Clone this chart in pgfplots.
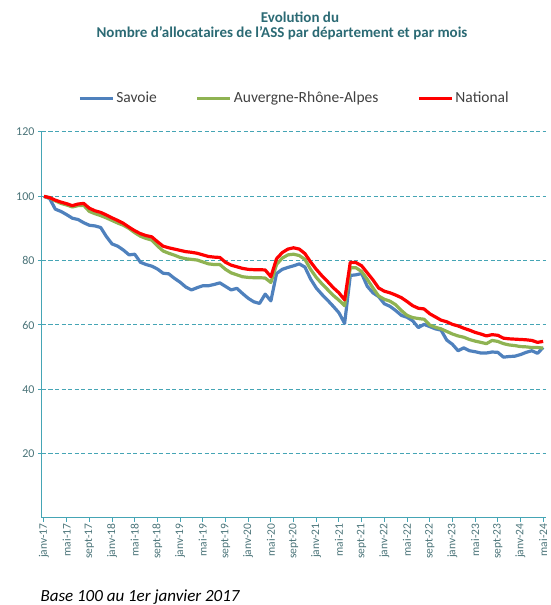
\documentclass[border=0pt]{standalone}
\usepackage{fontspec}
\setmainfont{Carlito}
\usepackage{pgfplots}
\usepackage{pgfplotstable}
\pgfplotsset{compat=1.18}
\definecolor{TitleTeal}{HTML}{2B6A74}
\definecolor{AxTeal}{HTML}{45A5B5}
\definecolor{TickGray}{HTML}{4A7378}
\definecolor{LegGray}{HTML}{404040}
\definecolor{SavBlue}{HTML}{4F81BD}
\definecolor{AraGreen}{HTML}{8FB352}
\definecolor{NatRed}{HTML}{FF0000}

% mois depuis janv-17 ; Savoie, Auvergne-Rhone-Alpes, National (base 100)
\pgfplotstableread{
m sav ara nat
0 100 100 100
1 99.3 99.5 99.6
2 96 98.6 98.8
3 95.3 97.8 98.2
4 94.3 97.3 97.7
5 93.2 96.7 97.1
6 92.8 97.1 97.6
7 91.8 97.2 97.8
8 91 95.3 96.3
9 90.8 94.6 95.5
10 90.3 94 95
11 87.5 93.3 94.2
12 85.2 92.5 93.3
13 84.5 91.7 92.5
14 83.3 91 91.6
15 81.8 90 90.4
16 82 88.7 89.3
17 79.5 87.6 88.4
18 78.8 86.9 87.8
19 78.3 86.4 87.4
20 77.4 84.6 85.9
21 76.1 83 84.5
22 75.9 82.3 84
23 74.5 81.7 83.6
24 73.3 81 83.2
25 71.8 80.6 82.8
26 70.9 80.4 82.6
27 71.6 80.2 82.3
28 72.2 79.6 81.8
29 72.2 79 81.3
30 72.6 78.8 81.1
31 73.1 78.8 81
32 72 77.3 79.5
33 70.9 76.2 78.6
34 71.4 75.6 78.1
35 69.8 75 77.6
36 68.3 74.8 77.3
37 67.2 74.7 77.2
38 66.7 74.7 77.2
39 69.6 74.6 77.1
40 67.5 73.2 75
41 76 78.8 80.6
42 77.3 80.8 82.5
43 77.9 81.8 83.6
44 78.4 82 84
45 79 81.6 83.6
46 78 80.4 82.2
47 74.3 77.3 79.6
48 71.5 74.8 77.3
49 69.5 72.8 75.3
50 67.7 71 73.5
51 65.8 69.2 71.6
52 63.8 67.7 70
53 60.5 66 67.8
54 75.4 77.8 79.5
55 75.6 77.8 79.4
56 76 76.6 78.4
57 72 74.2 76.2
58 70 71.5 74
59 68.8 69 71.5
60 66.6 68 70.5
61 65.8 67.4 70
62 64.5 66.3 69.3
63 63 64.5 68.5
64 62.4 63 67.3
65 61.3 62.3 66
66 59.2 62 65.2
67 60.2 61.8 65
68 59.5 60 63.5
69 58.8 59.3 62.5
70 58.4 58.8 61.5
71 55.3 58 61
72 54 57.2 60.2
73 52 56.6 59.7
74 52.9 56.2 59
75 52 55.5 58.4
76 51.7 55 57.7
77 51.3 54.6 57.2
78 51.3 54.2 56.6
79 51.6 55.2 57
80 51.5 54.9 56.8
81 50 54.2 55.9
82 50.2 53.8 55.7
83 50.3 53.6 55.6
84 50.8 53.3 55.5
85 51.5 53.2 55.4
86 52 53 55.2
87 51.2 53 54.6
88 53 52.8 54.9
}\asstable

\begin{document}
\begin{tikzpicture}
\useasboundingbox (0,0) rectangle (550pt,605pt);
\node[font=\fontsize{15}{18}\selectfont\bfseries,text=TitleTeal] at (300pt,588pt) {Evolution du};
\node[font=\fontsize{15}{18}\selectfont\bfseries,text=TitleTeal] at (282pt,572pt) {Nombre d'allocataires de l'ASS par département et par mois};
\begin{axis}[
  at={(42pt,87pt)},anchor=south west,
  scale only axis,width=504pt,height=386pt,
  xmin=-0.35,xmax=88.5,ymin=0,ymax=120,
  axis x line=bottom,axis y line=left,
  axis line style={draw=AxTeal,line width=1pt,-},
  xtick={0,4,...,88},
  xticklabels={janv-17,mai-17,sept-17,janv-18,mai-18,sept-18,janv-19,mai-19,sept-19,janv-20,mai-20,sept-20,janv-21,mai-21,sept-21,janv-22,mai-22,sept-22,janv-23,mai-23,sept-23,janv-24,mai-24},
  ytick={20,40,...,120},
  tick align=outside,major tick length=4pt,
  tick style={draw=AxTeal,line width=1pt},
  ymajorgrids,grid style={draw=AxTeal,line width=1pt,dash pattern=on 4pt off 2.5pt},
  /pgf/number format/assume math mode=true,
  x tick label style={font=\fontsize{11.5}{13}\selectfont,text=TickGray,rotate=90,anchor=east,inner sep=1.5pt},
  y tick label style={font=\fontsize{12}{14}\selectfont,text=TickGray},
  legend style={at={(0.5,1.088)},anchor=center,draw=none,fill=none,
    font=\fontsize{15.5}{18}\selectfont,text=LegGray,
    /tikz/every odd column/.append style={column sep=1pt},
    /tikz/every even column/.append style={column sep=38pt},
    nodes={inner sep=1pt}},
  legend columns=3,
  legend image code/.code={\draw[line width=3pt] (0pt,0pt) -- (33pt,0pt);},
  clip=false,
  every axis plot/.append style={line width=3.2pt,line join=round,no markers},
]
\addplot[SavBlue] table[x=m,y=sav] {\asstable};
\addlegendentry{Savoie}
\addplot[AraGreen] table[x=m,y=ara] {\asstable};
\addlegendentry{Auvergne-Rhône-Alpes}
\addplot[NatRed] table[x=m,y=nat] {\asstable};
\addlegendentry{National}
\end{axis}
\node[anchor=base west,font=\fontsize{17}{20}\selectfont\itshape,text=black] at (37pt,3pt) {Base 100 au 1er janvier 2017};
\end{tikzpicture}
\end{document}
